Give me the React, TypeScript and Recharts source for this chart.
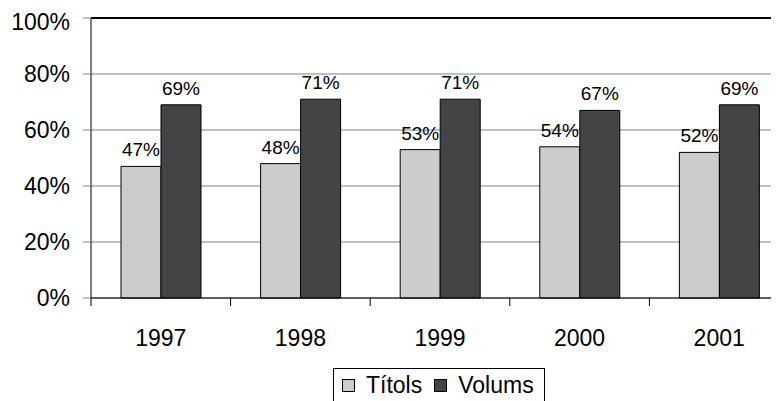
import {
  BarChart,
  Bar,
  XAxis,
  YAxis,
  CartesianGrid,
  ReferenceLine,
  LabelList,
  Legend,
} from "recharts";

const YEARS = ["1997", "1998", "1999", "2000", "2001"];
const TITOLS = [0.47, 0.48, 0.53, 0.54, 0.52];
const VOLUMS = [0.69, 0.71, 0.71, 0.67, 0.69];
const Y_TICKS = [0, 0.2, 0.4, 0.6, 0.8, 1];

const FONT = "'Liberation Sans', Arial, sans-serif";
const LIGHT = "#CCCCCC";
const DARK = "#444444";

const CHART_W = 800;
const CHART_H = 393;
const MARGIN = { top: 10, right: 19, bottom: 0, left: 0 };
const Y_AXIS_W = 83;
const PLOT_W = CHART_W - MARGIN.left - MARGIN.right - Y_AXIS_W;
const HALF_BAND = PLOT_W / YEARS.length / 2;
const LEGEND_H = 40;

const data = YEARS.map((year, i) => ({
  year,
  titols: TITOLS[i],
  volums: VOLUMS[i],
}));

const pct = (v: number) => `${Math.round(v * 100)}%`;

function YearTick(props: any) {
  const { x, y, payload } = props;
  return (
    <g>
      <line x1={x - HALF_BAND} y1={y} x2={x - HALF_BAND} y2={y + 8} stroke="#000" />
      <text x={x} y={y + 48} textAnchor="middle" fontSize={23} fontFamily={FONT} fill="#000">
        {payload.value}
      </text>
    </g>
  );
}

function BoxLegend() {
  const item = (color: string, label: string) => (
    <span style={{ display: "flex", alignItems: "center", marginRight: 12 }}>
      <span
        style={{
          width: 11,
          height: 11,
          background: color,
          border: "1px solid #000",
          marginRight: 11,
        }}
      />
      {label}
    </span>
  );
  return (
    <div
      style={{
        height: LEGEND_H,
        boxSizing: "border-box",
        border: "1px solid #000",
        display: "flex",
        alignItems: "flex-start",
        paddingTop: 3,
        paddingLeft: 8,
        fontFamily: FONT,
        fontSize: 23,
        color: "#000",
        width: 212,
      }}
    >
      {item(LIGHT, "Títols")}
      {item(DARK, "Volums")}
    </div>
  );
}

export default function App() {
  return (
    <BarChart
      width={CHART_W}
      height={CHART_H}
      data={data}
      margin={MARGIN}
      barGap={0}
      barSize={40}
    >
      <CartesianGrid vertical={false} stroke="#808080" />
      <XAxis
        dataKey="year"
        height={CHART_H - MARGIN.top - 280 - LEGEND_H}
        axisLine={{ stroke: "#000" }}
        tickLine={false}
        tickSize={0}
        tickMargin={0}
        tick={<YearTick />}
        interval={0}
      />
      <YAxis
        width={Y_AXIS_W}
        domain={[0, 1]}
        ticks={Y_TICKS}
        tickFormatter={pct}
        axisLine={{ stroke: "#000" }}
        tickLine={{ stroke: "#808080" }}
        tickSize={8}
        tickMargin={13}
        tick={{ fill: "#000", fontSize: 23, fontFamily: FONT }}
      />
      <ReferenceLine y={1} stroke="#000" strokeWidth={2} />
      <Legend
        verticalAlign="bottom"
        wrapperStyle={{ top: 360, left: 325, bottom: "auto", width: 212 }}
        content={() => <BoxLegend />}
      />
      <Bar
        dataKey="titols"
        name="Títols"
        fill={LIGHT}
        stroke="#000"
        strokeWidth={1}
        isAnimationActive={false}
      >
        <LabelList
          dataKey="titols"
          position="top"
          offset={10}
          formatter={(v: any) => pct(Number(v))}
          style={{ fill: "#000", fontSize: 19, fontFamily: FONT }}
        />
      </Bar>
      <Bar
        dataKey="volums"
        name="Volums"
        fill={DARK}
        stroke="#000"
        strokeWidth={1}
        isAnimationActive={false}
      >
        <LabelList
          dataKey="volums"
          position="top"
          offset={10}
          formatter={(v: any) => pct(Number(v))}
          style={{ fill: "#000", fontSize: 19, fontFamily: FONT }}
        />
      </Bar>
    </BarChart>
  );
}
